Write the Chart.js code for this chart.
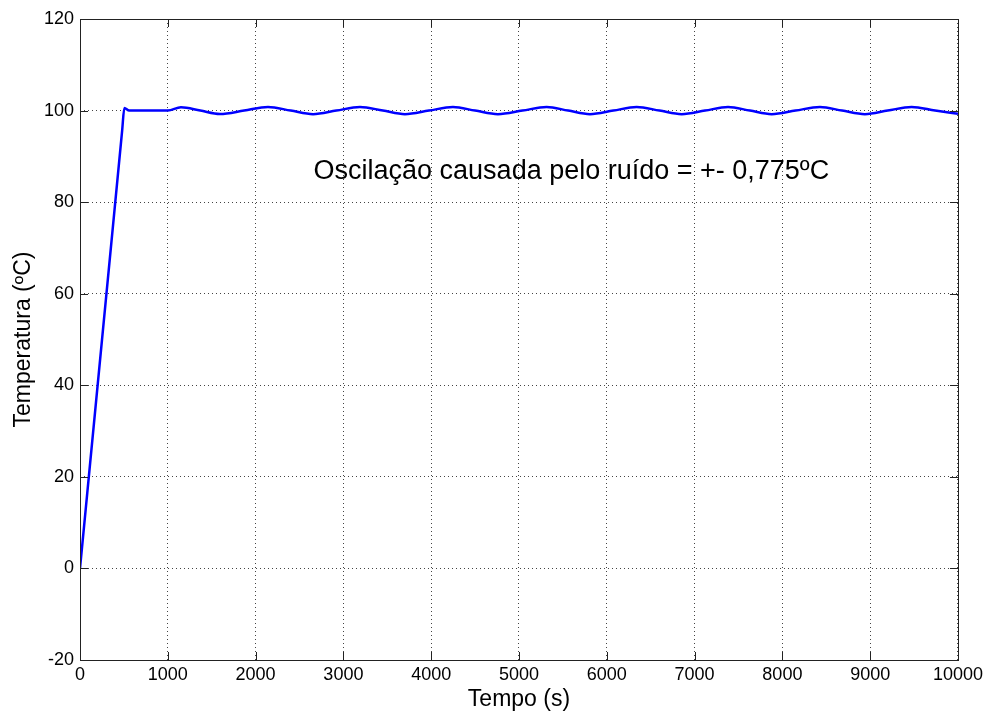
<!DOCTYPE html>
<html>
<head>
<meta charset="utf-8">
<script src="https://cdn.jsdelivr.net/npm/chart.js@4/dist/chart.umd.min.js"></script>
<style>
html,body{margin:0;padding:0;background:#fff;}
#wrap{width:987px;height:713px;}
</style>
</head>
<body>
<div id="wrap"><canvas id="c" width="987" height="713"></canvas></div>
<script>
// Data
const timeS = [0, 250, 480, 505, 560, 1000, 1150, 1370, 1594, 1870, 2141, 2400, 2654, 2920, 3189, 3450, 3701, 3975, 4248, 4500, 4760, 5040, 5315, 5560, 5808, 6075, 6340, 6600, 6853, 7120, 7381, 7630, 7878, 8150, 8428, 8680, 8940, 9200, 9472, 9740, 10000];
const temperature = [0, 49.8, 95.6, 100.55, 100.0, 100.0, 100.72, 100.0, 99.25, 100.0, 100.78, 100.0, 99.22, 100.0, 100.78, 100.0, 99.22, 100.0, 100.78, 100.0, 99.22, 100.0, 100.78, 100.0, 99.22, 100.0, 100.78, 100.0, 99.22, 100.0, 100.78, 100.0, 99.22, 100.0, 100.78, 100.0, 99.22, 100.0, 100.78, 100.0, 99.3];
const xTicks = [0, 1000, 2000, 3000, 4000, 5000, 6000, 7000, 8000, 9000, 10000];
const yTicks = [-20, 0, 20, 40, 60, 80, 100, 120];
const xTitle = 'Tempo (s)';
const yTitle = 'Temperatura (ºC)';
const note = 'Oscilação causada pelo ruído = +- 0,775ºC';

const FONT = "'Liberation Sans', Arial, sans-serif";

const boxPlugin = {
  id: 'box',
  afterDraw(chart) {
    const {ctx, chartArea: a, scales} = chart;
    ctx.save();
    ctx.strokeStyle = '#222';
    ctx.lineWidth = 1;
    ctx.setLineDash([]);
    ctx.strokeRect(Math.round(a.left) + 0.5, Math.round(a.top) + 0.5, Math.round(a.right - a.left), Math.round(a.bottom - a.top));
    const L = 8;
    ctx.beginPath();
    xTicks.forEach(v => {
      const x = Math.round(scales.x.getPixelForValue(v)) + 0.5;
      ctx.moveTo(x, a.bottom); ctx.lineTo(x, a.bottom - L);
      ctx.moveTo(x, a.top); ctx.lineTo(x, a.top + L);
    });
    yTicks.forEach(v => {
      const y = Math.round(scales.y.getPixelForValue(v)) + 0.5;
      ctx.moveTo(a.left, y); ctx.lineTo(a.left + L, y);
      ctx.moveTo(a.right, y); ctx.lineTo(a.right - L, y);
    });
    ctx.stroke();
    ctx.fillStyle = '#000';
    ctx.font = '27px ' + FONT;
    ctx.textBaseline = 'middle';
    ctx.textAlign = 'left';
    ctx.fillText(note, scales.x.getPixelForValue(2660), scales.y.getPixelForValue(86.6));
    ctx.restore();
  }
};

new Chart(document.getElementById('c'), {
  type: 'line',
  data: {
    datasets: [{
      data: timeS.map((t, i) => ({x: t, y: temperature[i]})),
      borderColor: '#0000ff',
      borderWidth: 2.5,
      pointRadius: 0,
      fill: false,
      cubicInterpolationMode: 'monotone'
    }]
  },
  options: {
    responsive: false,
    animation: false,
    events: [],
    layout: {padding: {left: 0, right: 29, top: 19, bottom: 0}},
    plugins: {legend: {display: false}, tooltip: {enabled: false}},
    scales: {
      x: {
        type: 'linear', min: 0, max: 10000,
        afterBuildTicks(s) { s.ticks = xTicks.map(v => ({value: v})); },
        afterFit(s) { s.height = 53; },
        ticks: {color: '#000', font: {family: FONT, size: 18}, padding: 4, maxRotation: 0, autoSkip: false, callback: v => String(v)},
        grid: {color: '#444', lineWidth: 1, drawTicks: false, tickLength: 0},
        border: {display: false, dash: [1, 3]},
        title: {display: true, text: xTitle, color: '#000', font: {family: FONT, size: 23}, padding: {top: 7, bottom: 0}}
      },
      y: {
        type: 'linear', min: -20, max: 120,
        afterBuildTicks(s) { s.ticks = yTicks.map(v => ({value: v})); },
        afterFit(s) { s.width = 80; },
        ticks: {color: '#000', font: {family: FONT, size: 18}, padding: 6, autoSkip: false, callback: v => String(v)},
        grid: {color: '#444', lineWidth: 1, drawTicks: false, tickLength: 0},
        border: {display: false, dash: [1, 3]},
        title: {display: true, text: yTitle, color: '#000', font: {family: FONT, size: 23}, padding: {top: 10, bottom: 0}}
      }
    }
  },
  plugins: [boxPlugin]
});
</script>
</body>
</html>
